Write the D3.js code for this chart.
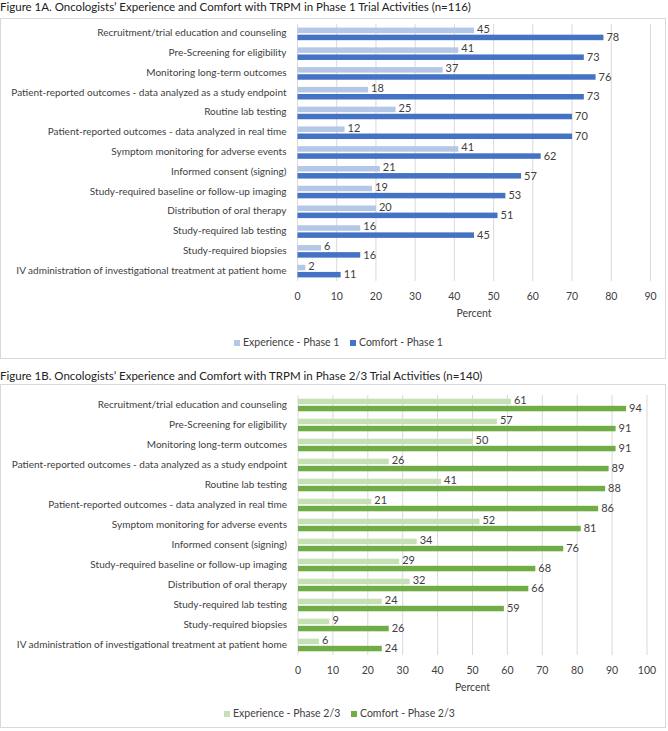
<!DOCTYPE html>
<html>
<head>
<script src="https://d3js.org/d3.v7.min.js"></script>
<style>
body { margin: 0; background: #fff; }
text { font-family: Lato, "Open Sans", sans-serif; fill: #404040; }
</style>
</head>
<body>
<script>

var w = 668, h = 731;

var activities = [
  "Recruitment/trial education and counseling",
  "Pre-Screening for eligibility",
  "Monitoring long-term outcomes",
  "Patient-reported outcomes - data analyzed as a study endpoint",
  "Routine lab testing",
  "Patient-reported outcomes - data analyzed in real time",
  "Symptom monitoring for adverse events",
  "Informed consent (signing)",
  "Study-required baseline or follow-up imaging",
  "Distribution of oral therapy",
  "Study-required lab testing",
  "Study-required biopsies",
  "IV administration of investigational treatment at patient home"
];

var experience1 = [45, 41, 37, 18, 25, 12, 41, 21, 19, 20, 16, 6, 2];
var comfort1 = [78, 73, 76, 73, 70, 70, 62, 57, 53, 51, 45, 16, 11];
var experience23 = [61, 57, 50, 26, 41, 21, 52, 34, 29, 32, 24, 9, 6];
var comfort23 = [94, 91, 91, 89, 88, 86, 81, 76, 68, 66, 59, 26, 24];

var ticks1 = [0, 10, 20, 30, 40, 50, 60, 70, 80, 90];
var ticks23 = [0, 10, 20, 30, 40, 50, 60, 70, 80, 90, 100];

var svg = d3.select("body").append("svg").attr("width", w).attr("height", h);

function drawPanel(p) {
  var g = svg.append("g");

  g.append("text").text(p.title)
    .attr("x", 0).attr("y", p.top + 4)
    .attr("font-size", "11.5px").attr("dominant-baseline", "middle")
    .style("fill", "#222");

  g.append("rect")
    .attr("x", 0.5).attr("y", p.boxTop + 0.5)
    .attr("width", 665).attr("height", p.boxH)
    .attr("fill", "none").attr("stroke", "#d9d9d9");

  var x = d3.scaleLinear().domain([0, p.max]).range([p.x0, p.x1]);
  var y = d3.scaleBand().domain(activities).range([p.plotTop, p.plotBottom]);

  // gridlines
  g.selectAll(".grid").data(p.ticks).enter().append("line")
    .attr("x1", function(d){ return x(d); })
    .attr("x2", function(d){ return x(d); })
    .attr("y1", p.plotTop).attr("y2", p.plotBottom)
    .attr("stroke", "#d9d9d9").attr("stroke-width", 1);

  // category labels
  g.selectAll(".cat").data(activities).enter().append("text")
    .text(function(d){ return d; })
    .attr("x", p.x0 - 11)
    .attr("y", function(d){ return y(d) + y.bandwidth() / 2; })
    .attr("text-anchor", "end").attr("dominant-baseline", "middle")
    .attr("font-size", "10px");

  var bh = 5.5;
  var exp = p.exp.map(function(v, i){ return {cat: activities[i], v: v}; });
  var com = p.com.map(function(v, i){ return {cat: activities[i], v: v}; });

  g.selectAll(".exp").data(exp).enter().append("rect")
    .attr("x", x(0))
    .attr("y", function(d){ return y(d.cat) + y.bandwidth() / 2 - bh - 0.8; })
    .attr("width", function(d){ return x(d.v) - x(0); })
    .attr("height", bh)
    .attr("fill", p.light);

  g.selectAll(".com").data(com).enter().append("rect")
    .attr("x", x(0))
    .attr("y", function(d){ return y(d.cat) + y.bandwidth() / 2 + 0.8; })
    .attr("width", function(d){ return x(d.v) - x(0); })
    .attr("height", bh)
    .attr("fill", p.dark);

  g.selectAll(".expLbl").data(exp).enter().append("text")
    .text(function(d){ return d.v; })
    .attr("x", function(d){ return x(d.v) + 3; })
    .attr("y", function(d){ return y(d.cat) + y.bandwidth() / 2 - 4; })
    .attr("dominant-baseline", "middle").attr("font-size", "11px");

  g.selectAll(".comLbl").data(com).enter().append("text")
    .text(function(d){ return d.v; })
    .attr("x", function(d){ return x(d.v) + 3; })
    .attr("y", function(d){ return y(d.cat) + y.bandwidth() / 2 + 4.5; })
    .attr("dominant-baseline", "middle").attr("font-size", "11px");

  // x axis tick labels
  g.selectAll(".tick").data(p.ticks).enter().append("text")
    .text(function(d){ return d; })
    .attr("x", function(d){ return x(d); })
    .attr("y", p.plotBottom + 16)
    .attr("text-anchor", "middle").attr("dominant-baseline", "middle")
    .attr("font-size", "10.5px");

  g.append("text").text("Percent")
    .attr("x", (x(0) + x(p.max)) / 2)
    .attr("y", p.plotBottom + 33)
    .attr("text-anchor", "middle").attr("dominant-baseline", "middle")
    .attr("font-size", "10.5px");

  // legend
  var leg = [
    {label: p.legLight, color: p.light, x: p.legX[0]},
    {label: p.legDark, color: p.dark, x: p.legX[1]}
  ];
  var lg = g.selectAll(".leg").data(leg).enter().append("g")
    .attr("transform", function(d){ return "translate(" + d.x + "," + p.legY + ")"; });
  lg.append("rect").attr("x", 0).attr("y", -3).attr("width", 6).attr("height", 6)
    .attr("fill", function(d){ return d.color; });
  lg.append("text").text(function(d){ return d.label; })
    .attr("x", 9).attr("y", 0).attr("dominant-baseline", "middle")
    .attr("font-size", "10.5px");
}

drawPanel({
  title: "Figure 1A. Oncologists\u2019 Experience and Comfort with TRPM in Phase 1 Trial Activities (n=116)",
  top: 4, boxTop: 18, boxH: 340,
  x0: 297.5, x1: 650.5, max: 90, ticks: ticks1,
  plotTop: 24, plotBottom: 281,
  exp: experience1, com: comfort1,
  light: "#b4c7e7", dark: "#4472c4",
  legLight: "Experience - Phase 1", legDark: "Comfort - Phase 1",
  legX: [234, 350], legY: 343
});

drawPanel({
  title: "Figure 1B. Oncologists\u2019 Experience and Comfort with TRPM in Phase 2/3 Trial Activities (n=140)",
  top: 373, boxTop: 384, boxH: 343,
  x0: 298, x1: 647, max: 100, ticks: ticks23,
  plotTop: 395, plotBottom: 655,
  exp: experience23, com: comfort23,
  light: "#c5e0b4", dark: "#70ad47",
  legLight: "Experience - Phase 2/3", legDark: "Comfort - Phase 2/3",
  legX: [224, 351], legY: 714
});

</script>
</body>
</html>
